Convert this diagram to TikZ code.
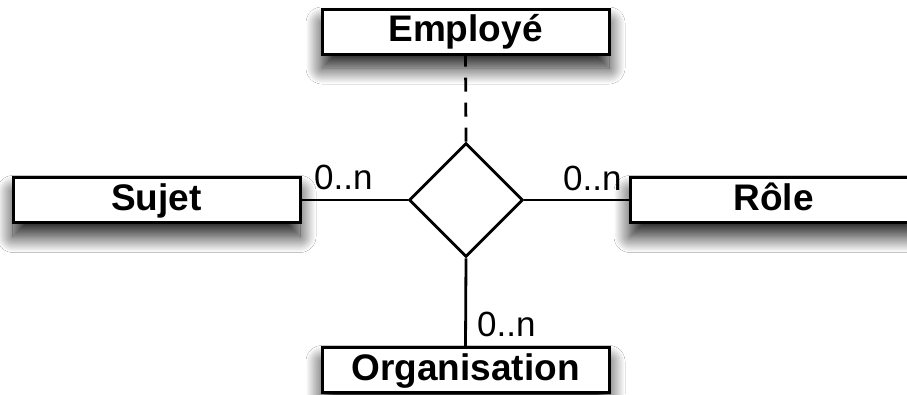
\documentclass[tikz,border=0pt]{standalone}
\usepackage{fontspec}
\setmainfont{Liberation Sans}
\usetikzlibrary{shapes.geometric,shadows.blur}
\tikzset{
  entity/.style={draw, line width=3pt, fill=white, minimum width=287pt, minimum height=45pt, inner sep=0pt,
    text height=27pt, text depth=7pt,
    font=\fontsize{37}{40}\selectfont\bfseries,
    blur shadow={shadow xshift=0pt, shadow yshift=-14pt, shadow blur radius=16pt, shadow opacity=90, shadow blur steps=24}},
  rel/.style={draw, diamond, line width=2.8pt, fill=white, minimum width=114pt, minimum height=114pt, inner sep=0pt},
  link/.style={line width=2.8pt},
  card/.style={font=\fontsize{35}{38}\selectfont, inner sep=0pt, anchor=base west}
}
\begin{document}
\begin{tikzpicture}[x=1pt,y=-1pt]
\useasboundingbox[fill=white] (0,0) rectangle (907,394);
\node[entity] (emp) at (465.5,31.5) {Employé};
\node[entity] (suj) at (156.5,200) {Sujet};
\node[entity] (role) at (773.5,200) {Rôle};
\node[entity] (org) at (465.5,370) {Organisation};
\node[rel] (r) at (466,200) {};
\draw[link, dash pattern=on 14pt off 11pt] (r.north) -- (emp.south);
\draw[link] (suj.east) -- (r.west);
\draw[link] (r.east) -- (role.west);
\draw[link] (r.south) -- (org.north);
\node[card] (c1) at (314,189) {0..n};
\node[card] (c2) at (563,190) {0..n};
\node[card] (c3) at (477,336) {0..n};
\end{tikzpicture}
\end{document}
